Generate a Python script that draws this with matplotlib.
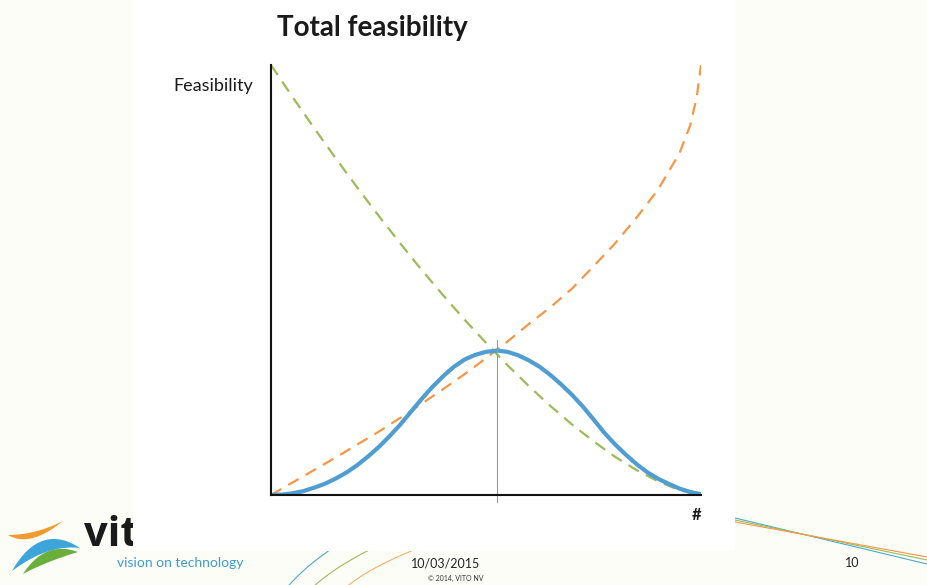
import numpy as np
import matplotlib
matplotlib.use("Agg")
import matplotlib.pyplot as plt
from matplotlib.patches import Rectangle

plt.rcParams['font.family'] = ['Lato', 'DejaVu Sans']

# curves on a 0-10 scale for both axes
green_x = [0, 0.5, 1, 1.5, 2, 2.5, 3, 3.5, 4, 4.5, 5, 5.5, 6, 6.5, 7, 7.5, 8, 8.5, 9, 9.5, 10]
green_y = [10, 9.26, 8.54, 7.84, 7.16, 6.50, 5.86, 5.24, 4.65, 4.08, 3.54, 3.02,
           2.53, 2.07, 1.64, 1.25, 0.89, 0.58, 0.32, 0.11, 0]

orange_x = [0, 0.5, 1, 1.5, 2, 2.5, 3, 3.5, 4, 4.5, 5, 5.5, 6, 6.5, 7, 7.5, 8, 8.5,
            9, 9.5, 9.75, 9.9, 10]
orange_y = [0, 0.29, 0.58, 0.87, 1.17, 1.47, 1.79, 2.12, 2.46, 2.81, 3.18, 3.57,
            3.98, 4.37, 4.80, 5.32, 5.85, 6.45, 7.10, 7.95, 8.60, 9.25, 10]

blue_x = [0, 0.25, 0.5, 0.75, 1, 1.25, 1.5, 1.75, 2, 2.25, 2.5, 2.75, 3, 3.25, 3.5,
          3.75, 4, 4.25, 4.5, 4.75, 5, 5.26, 5.5, 5.75, 6, 6.25, 6.5, 6.75, 7, 7.25,
          7.5, 7.75, 8, 8.25, 8.5, 8.75, 9, 9.25, 9.5, 9.75, 10]
blue_y = [0, 0.01, 0.04, 0.09, 0.17, 0.26, 0.38, 0.52, 0.69, 0.89, 1.11, 1.36, 1.63,
          1.93, 2.23, 2.51, 2.76, 2.98, 3.15, 3.26, 3.33, 3.36, 3.33, 3.25, 3.13, 2.98,
          2.79, 2.57, 2.33, 2.06, 1.76, 1.45, 1.18, 0.94, 0.72, 0.53, 0.38, 0.26, 0.15,
          0.07, 0.02]

optimum_x = 5.26


def quad(p0, c, p1, n=40):
    t = np.linspace(0, 1, n)[:, None]
    p0, c, p1 = map(np.asarray, (p0, c, p1))
    return (1 - t) ** 2 * p0 + 2 * (1 - t) * t * c + t ** 2 * p1


def swoosh(axis, p0, p1, c_top, c_bot, color):
    top = quad(p0, c_top, p1)
    bot = quad(p0, c_bot, p1)[::-1]
    pts = np.vstack([top, bot])
    axis.fill(pts[:, 0], pts[:, 1], color=color, lw=0)


fig = plt.figure(figsize=(9.27, 5.85), dpi=100)
fig.patch.set_facecolor('#fdfdf8')

# slide layer in pixel coordinates (logo, footer, decorations)
bg = fig.add_axes([0, 0, 1, 1])
bg.set_xlim(0, 927)
bg.set_ylim(585, 0)
bg.axis('off')

# logo
swoosh(bg, (8, 535), (63, 521), (35, 535), (30, 548), '#f39a2e')
swoosh(bg, (12, 571), (80, 548), (40, 522), (48, 544), '#3ea4dc')
swoosh(bg, (23, 574), (78, 552), (45, 540), (45, 562), '#6aae3b')
bg.text(84, 546, 'vito', fontsize=30, fontweight='bold', color='#1a1a1a', va='baseline',
        family=['Open Sans', 'DejaVu Sans'])

# thin decorative lines
s = np.linspace(0, 1, 50)
for c, y0, y1 in [('#4bacc6', 518, 564), ('#9bbb59', 520, 560), ('#f79646', 522, 557)]:
    bg.plot(735 + 192 * s, y0 + (y1 - y0) * s, color=c, lw=0.8)
for c, p0, cp, p1 in [('#4bacc6', (285, 590), (305, 565), (345, 540)),
                      ('#9bbb59', (310, 590), (335, 565), (390, 540)),
                      ('#f7b06a', (343, 590), (370, 565), (440, 540))]:
    arc = quad(p0, cp, p1)
    bg.plot(arc[:, 0], arc[:, 1], color=c, lw=0.8)

# white panel behind the chart
bg.add_patch(Rectangle((133, 0), 602, 551, facecolor='white', edgecolor='none', zorder=3))

bg.text(117, 563, 'vision on technology', fontsize=10, color='#3d9bd2', va='center', zorder=4)
bg.text(446, 564, '10/03/2015', fontsize=9, color='#222222', ha='center', va='center', zorder=4)
bg.text(456, 578, '© 2014, VITO NV', fontsize=5, color='#333333', ha='center', va='center',
        zorder=4)
bg.text(852, 563, '10', fontsize=9, color='#222222', ha='center', va='center', zorder=4)

bg.text(372, 28, 'Total feasibility', fontsize=20, fontweight='bold', color='#1a1a1a',
        ha='center', va='center', zorder=4)
bg.text(253, 86, 'Feasibility', fontsize=13, color='#1a1a1a', ha='right', va='center',
        zorder=4)
bg.text(697, 515, '#', fontsize=12, fontweight='bold', color='#1a1a1a', ha='center',
        va='center', zorder=4)

# chart
ax = fig.add_axes([0.2923, 0.1538, 0.4639, 0.7350])
ax.set_facecolor('none')
ax.set_xlim(0, 10)
ax.set_ylim(0, 10)

ax.plot(green_x, green_y, color='#9bbb59', lw=1.6, dashes=(5.4, 3.6))
ax.plot(orange_x, orange_y, color='#f79646', lw=1.6, dashes=(5.4, 3.6))
ax.plot(blue_x, blue_y, color='#4f9dd2', lw=3.0, solid_capstyle='round', solid_joinstyle='round')
ax.plot([optimum_x, optimum_x], [-0.16, 3.6], color='#999999', lw=0.8, clip_on=False)

for side in ['top', 'right']:
    ax.spines[side].set_visible(False)
for side in ['left', 'bottom']:
    ax.spines[side].set_linewidth(1.5)
    ax.spines[side].set_color('#111111')
ax.set_xticks([])
ax.set_yticks([])

fig.savefig('out.png', dpi=100, facecolor=fig.get_facecolor())
